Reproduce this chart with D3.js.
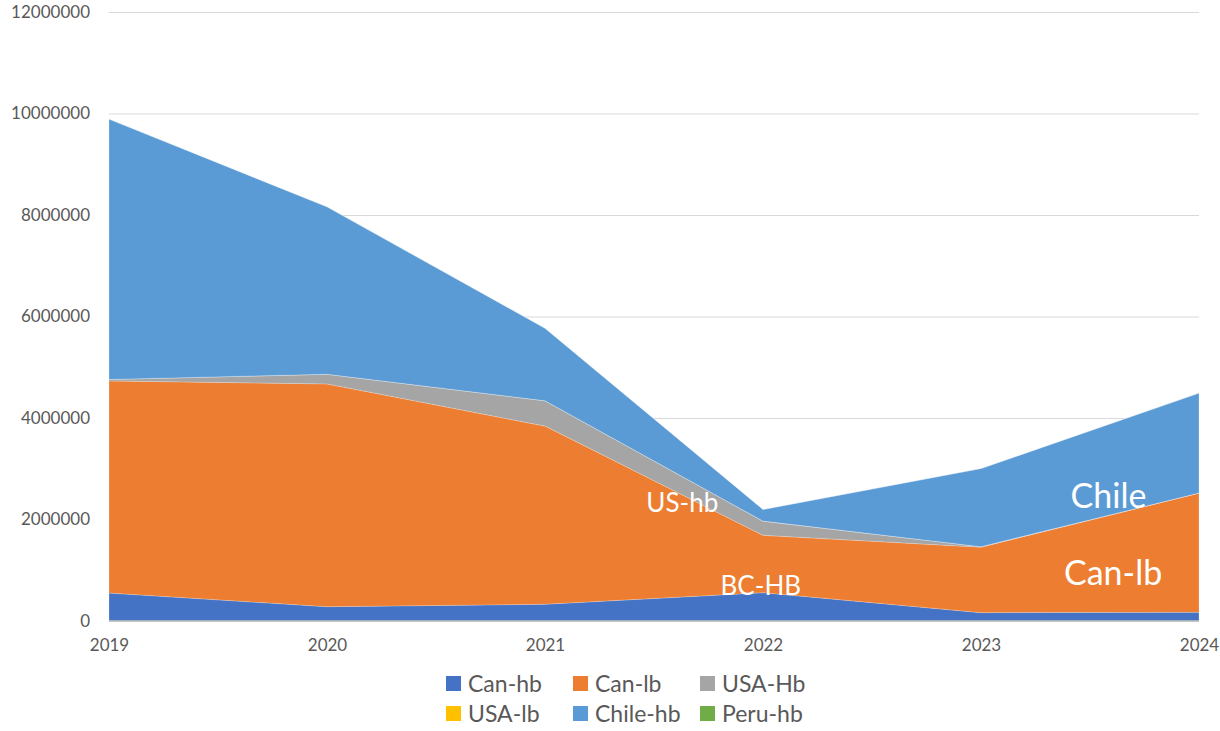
<!DOCTYPE html>
<html>
<head>
<meta charset="utf-8">
<style>
body
{
  margin:0;
  background:#fff;
}
svg text
{
  font-family: Lato, "Open Sans", sans-serif;
}
</style>
<script src="https://cdnjs.cloudflare.com/ajax/libs/d3/7.8.5/d3.min.js"></script>
</head>
<body>
<script>
// values
var years = [2019, 2020, 2021, 2022, 2023, 2024];
var seriesNames = ["Can-hb", "Can-lb", "USA-Hb", "USA-lb", "Chile-hb", "Peru-hb"];
var seriesColors = ["#4472C4", "#ED7D31", "#A5A5A5", "#FFC000", "#5B9BD5", "#70AD47"];
var canHb = [551000, 282000, 330000, 558000, 165000, 171000];
var canLb = [4180000, 4390000, 3510000, 1130000, 1290000, 2350000];
var usaHb = [30000, 190000, 500000, 280000, 10000, 0];
var usaLb = [0, 0, 0, 0, 0, 0];
var chileHb = [5130000, 3300000, 1430000, 230000, 1540000, 1970000];
var peruHb = [0, 0, 0, 0, 0, 0];
var yTicks = [0, 2000000, 4000000, 6000000, 8000000, 10000000, 12000000];

// labels written on the chart
var noteText = ["US-hb", "BC-HB", "Chile", "Can-lb"];
var noteYear = [2021.63, 2021.99, 2023.585, 2023.606];
var noteValue = [2150000, 512000, 2227000, 709000];
var noteSize = [26, 26, 34, 34];

var w = 1220, h = 731;
var svg = d3.select("body").append("svg")
  .attr("width", w)
  .attr("height", h);

var x = d3.scaleLinear().domain([2019, 2024]).range([109, 1199]);
var y = d3.scaleLinear().domain([0, 12000000]).range([621, 12]);

var allSeries = [canHb, canLb, usaHb, usaLb, chileHb, peruHb];
var rows = years.map(function(yr, i) {
  var r = {year: yr};
  seriesNames.forEach(function(n, k) { r[n] = allSeries[k][i]; });
  return r;
});

// grid
svg.append("g")
  .attr("transform", "translate(109,0)")
  .call(d3.axisLeft(y).tickValues(yTicks).tickSize(-1090).tickFormat(""))
  .call(function(g) {
    g.select(".domain").remove();
    g.selectAll("line").attr("stroke", "#d9d9d9").attr("stroke-width", 1);
  });

var stack = d3.stack().keys(seriesNames);
var layers = stack(rows);

var area = d3.area()
  .x(function(d) { return x(d.data.year); })
  .y0(function(d) { return y(d[0]); })
  .y1(function(d) { return y(d[1]); });

svg.selectAll("path.layer")
  .data(layers)
  .enter().append("path")
  .attr("class", "layer")
  .attr("d", area)
  .attr("fill", function(d, i) { return seriesColors[i]; })
  .attr("stroke", "#fff")
  .attr("stroke-opacity", 0.35)
  .attr("stroke-width", 0.6);

// x axis line
svg.append("line")
  .attr("x1", 109).attr("x2", 1199)
  .attr("y1", y(0)).attr("y2", y(0))
  .attr("stroke", "#bfbfbf").attr("stroke-width", 1.3);

// y labels
svg.append("g")
  .attr("transform", "translate(90,0)")
  .call(d3.axisLeft(y).tickValues(yTicks).tickSize(0).tickPadding(0).tickFormat(d3.format("d")))
  .call(function(g) {
    g.select(".domain").remove();
    g.selectAll("text")
      .attr("fill", "#595959")
      .style("font-size", "17px")
      .style("font-family", "Lato, sans-serif");
  });

// x labels
svg.append("g")
  .attr("transform", "translate(0,639)")
  .call(d3.axisBottom(x).tickValues(years).tickSize(0).tickPadding(0).tickFormat(d3.format("d")))
  .call(function(g) {
    g.select(".domain").remove();
    g.selectAll("text")
      .attr("fill", "#595959")
      .style("font-size", "17px")
      .style("font-family", "Lato, sans-serif");
  });

// notes on the areas
noteText.forEach(function(t, i) {
  svg.append("text")
    .attr("x", x(noteYear[i]))
    .attr("y", y(noteValue[i]))
    .attr("text-anchor", "middle")
    .attr("fill", "#fff")
    .style("font-size", noteSize[i] + "px")
    .text(t);
});

// legend
var legend = svg.append("g");
seriesNames.forEach(function(n, i) {
  var col = i % 3, row = Math.floor(i / 3);
  var gx = 446 + col * 127, gy = 676 + row * 30;
  legend.append("rect")
    .attr("x", gx).attr("y", gy)
    .attr("width", 15).attr("height", 15)
    .attr("fill", seriesColors[i]);
  legend.append("text")
    .attr("x", gx + 22).attr("y", gy + 15.5)
    .attr("fill", "#595959")
    .style("font-size", "23px")
    .text(n);
});
</script>
</body>
</html>
